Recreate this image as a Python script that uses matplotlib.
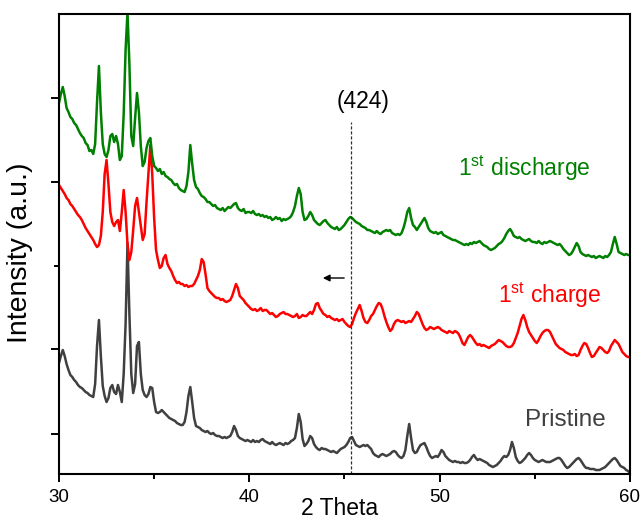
import matplotlib
matplotlib.use("Agg")
import matplotlib.pyplot as plt
import numpy as np

plt.rcParams['font.family'] = ['Liberation Sans', 'DejaVu Sans']
plt.rcParams['mathtext.fontset'] = 'custom'
plt.rcParams['mathtext.rm'] = 'Liberation Sans'
plt.rcParams['mathtext.it'] = 'Liberation Sans'

# scan grid, 2theta from 30 to 60 deg in 0.1 deg steps
two_theta = np.linspace(30, 60, 301)

# offset XRD patterns (a.u.), one row per degree
int_discharge = [
    371, 380, 387, 378, 366, 362, 357, 355, 351, 349,
    345, 341, 338, 336, 331, 329, 323, 324, 320, 330,
    372, 408, 362, 330, 320, 317, 324, 338, 340, 332,
    338, 330, 314, 318, 360, 424, 462, 410, 338, 328,
    356, 381, 362, 328, 308, 312, 326, 333, 336, 318,
    308, 306, 303, 305, 300, 302, 298, 297, 295, 294,
    291, 289, 290, 286, 284, 283, 282, 288, 302, 329,
    310, 294, 287, 285, 281, 278, 277, 275, 272, 272,
    270, 268, 269, 266, 265, 264, 266, 263, 265, 267,
    266, 268, 270, 271, 266, 264, 263, 265, 261, 262,
    262, 261, 263, 260, 259, 260, 258, 259, 257, 258,
    256, 257, 254, 255, 257, 255, 256, 253, 255, 254,
    255, 256, 258, 262, 268, 278, 286, 280, 262, 254,
    255, 258, 262, 259, 254, 252, 250, 249, 251, 253,
    254, 251, 249, 247, 246, 245, 247, 244, 245, 247,
    249, 252, 255, 257, 256, 254, 252, 251, 250, 248,
    247, 246, 244, 244, 243, 242, 241, 243, 241, 240,
    242, 243, 244, 243, 244, 241, 240, 239, 240, 239,
    241, 246, 253, 262, 266, 256, 249, 247, 244, 247,
    250, 253, 256, 252, 246, 243, 242, 241, 242, 240,
    241, 242, 239, 238, 237, 236, 235, 234, 234, 233,
    232, 231, 230, 229, 230, 229, 231, 230, 232, 231,
    232, 233, 231, 229, 228, 227, 225, 224, 225, 226,
    228, 230, 231, 233, 236, 240, 243, 245, 242, 238,
    237, 236, 237, 235, 234, 233, 234, 235, 233, 232,
    232, 231, 233, 231, 230, 232, 231, 232, 233, 232,
    231, 230, 229, 230, 228, 225, 223, 221, 219, 220,
    223, 227, 231, 228, 222, 220, 219, 218, 219, 218,
    217, 218, 216, 217, 218, 217, 216, 218, 217, 219,
    222, 230, 237, 230, 222, 221, 220, 219, 220, 219,
    219]

int_charge = [
    289, 286, 283, 280, 276, 274, 270, 268, 265, 262,
    259, 257, 254, 250, 246, 243, 240, 237, 234, 230,
    227, 229, 238, 262, 300, 314, 290, 262, 252, 248,
    252, 254, 243, 262, 284, 262, 230, 214, 222, 244,
    268, 276, 262, 248, 234, 240, 272, 300, 329, 300,
    256, 224, 214, 206, 208, 216, 219, 210, 206, 203,
    198, 194, 191, 192, 190, 190, 188, 189, 187, 188,
    188, 190, 194, 198, 204, 215, 212, 200, 186, 183,
    181, 179, 177, 176, 176, 174, 175, 173, 172, 173,
    174, 178, 184, 190, 186, 178, 176, 174, 171, 169,
    167, 165, 164, 165, 163, 164, 166, 163, 164, 164,
    162, 160, 161, 159, 157, 158, 160, 161, 162, 160,
    160, 159, 158, 157, 158, 160, 156, 157, 159, 158,
    158, 160, 162, 160, 164, 170, 171, 166, 163, 160,
    159, 157, 158, 156, 155, 154, 155, 153, 154, 155,
    152, 150, 148, 147, 150, 156, 161, 165, 169, 163,
    156, 152, 151, 154, 158, 160, 164, 168, 171, 170,
    165, 158, 152, 147, 143, 145, 150, 153, 154, 153,
    152, 153, 151, 152, 153, 152, 155, 158, 162, 160,
    155, 150, 146, 144, 145, 147, 146, 145, 146, 147,
    146, 144, 143, 142, 141, 143, 142, 141, 143, 142,
    140, 136, 131, 129, 133, 137, 139, 137, 134, 131,
    129, 130, 128, 129, 128, 127, 126, 128, 129, 130,
    132, 134, 133, 132, 130, 128, 127, 127, 128, 131,
    136, 141, 148, 155, 159, 154, 147, 142, 139, 136,
    133, 131, 134, 138, 141, 143, 144, 144, 142, 138,
    134, 130, 128, 126, 125, 124, 122, 121, 120, 119,
    119, 120, 118, 119, 124, 128, 131, 130, 126, 121,
    117, 118, 121, 124, 127, 126, 124, 122, 121, 123,
    128, 131, 134, 132, 130, 126, 122, 120, 118, 117,
    117]

int_pristine = [
    111, 118, 124, 118, 110, 104, 99, 97, 94, 92,
    89, 87, 86, 84, 82, 81, 79, 78, 77, 90,
    128, 154, 118, 88, 78, 72, 76, 86, 89, 82,
    80, 89, 82, 72, 100, 150, 231, 160, 100, 81,
    90, 128, 132, 100, 84, 79, 77, 80, 87, 86,
    72, 62, 61, 62, 64, 62, 60, 58, 56, 55,
    54, 53, 51, 50, 49, 49, 52, 62, 78, 87,
    72, 56, 48, 47, 46, 44, 43, 42, 43, 41,
    40, 41, 39, 38, 38, 37, 36, 37, 36, 37,
    38, 42, 48, 44, 38, 36, 35, 34, 33, 34,
    33, 32, 34, 32, 33, 32, 34, 35, 33, 32,
    31, 30, 32, 30, 29, 30, 31, 30, 29, 31,
    30, 31, 33, 34, 36, 46, 60, 52, 35, 28,
    30, 33, 38, 36, 30, 27, 25, 24, 26, 25,
    25, 24, 23, 22, 23, 22, 21, 23, 25, 26,
    27, 29, 32, 36, 37, 33, 29, 28, 27, 28,
    29, 28, 29, 27, 25, 21, 19, 18, 17, 19,
    20, 19, 18, 19, 20, 22, 23, 22, 19, 17,
    16, 18, 24, 38, 50, 36, 24, 21, 22, 26,
    29, 30, 31, 27, 22, 18, 16, 17, 18, 17,
    20, 24, 22, 18, 16, 14, 13, 12, 13, 12,
    12, 11, 12, 11, 11, 12, 14, 17, 19, 16,
    14, 15, 14, 13, 12, 11, 9, 8, 7, 8,
    9, 11, 13, 16, 18, 17, 19, 24, 32, 26,
    17, 13, 11, 12, 14, 16, 19, 21, 19, 16,
    14, 13, 12, 13, 14, 13, 12, 12, 12, 13,
    14, 15, 16, 16, 14, 11, 8, 6, 7, 9,
    11, 13, 15, 16, 14, 11, 8, 6, 6, 5,
    5, 5, 4, 4, 4, 5, 6, 7, 9, 11,
    13, 15, 16, 14, 11, 8, 7, 6, 4, 3,
    1]

y_ticks = [40, 125, 292, 376]
y_minor = [208]
peak_424 = 45.34

fig = plt.figure(figsize=(6.41, 5.21), dpi=100)
ax = fig.add_axes([0.092, 0.0902, 0.8908, 0.8829])

ax.plot(two_theta, int_pristine, color='#404040', lw=1.8)
ax.plot(two_theta, int_charge, color='#ff0000', lw=1.8)
ax.plot(two_theta, int_discharge, color='#008000', lw=1.8)

# (424) reflection marker and shift arrow
ax.plot([peak_424, peak_424], [0, 352], color='#303030', lw=0.9, ls=(0, (2.5, 1.5)))
ax.text(45.97, 366, '(424)', ha='center', va='baseline', fontsize=16.5)
ax.annotate('', xy=(43.72, 196), xytext=(45.13, 196),
            arrowprops=dict(arrowstyle='-|>', color='black', lw=1.0,
                            mutation_scale=10))

ax.text(50.99, 298, '1$^{\\mathrm{st}}$ discharge', color='#008000', fontsize=16.5, va='baseline')
ax.text(53.07, 171, '1$^{\\mathrm{st}}$ charge', color='#ff0000', fontsize=16.5, va='baseline')
ax.text(54.49, 48, 'Pristine', color='#404040', fontsize=17.5, va='baseline')

ax.set_xlim(30, 60)
ax.set_ylim(0, 460)
ax.set_xticks([30, 40, 50, 60])
ax.set_xticks([35, 45, 55], minor=True)
ax.set_yticks(y_ticks)
ax.set_yticks(y_minor, minor=True)
ax.set_yticklabels([])
ax.tick_params(which='major', direction='out', length=6, width=1.4, labelsize=13.5, pad=5)
ax.tick_params(which='minor', direction='out', length=3.5, width=1.4)
for sp in ax.spines.values():
    sp.set_linewidth(1.5)

ax.set_xlabel('2 Theta', fontsize=16.5, va='baseline')
ax.xaxis.set_label_coords(0.492, -0.089)
ax.set_ylabel('Intensity (a.u.)', fontsize=20.5, va='center')
ax.yaxis.set_label_coords(-0.068, 0.482)

fig.savefig('out.png', dpi=100)
